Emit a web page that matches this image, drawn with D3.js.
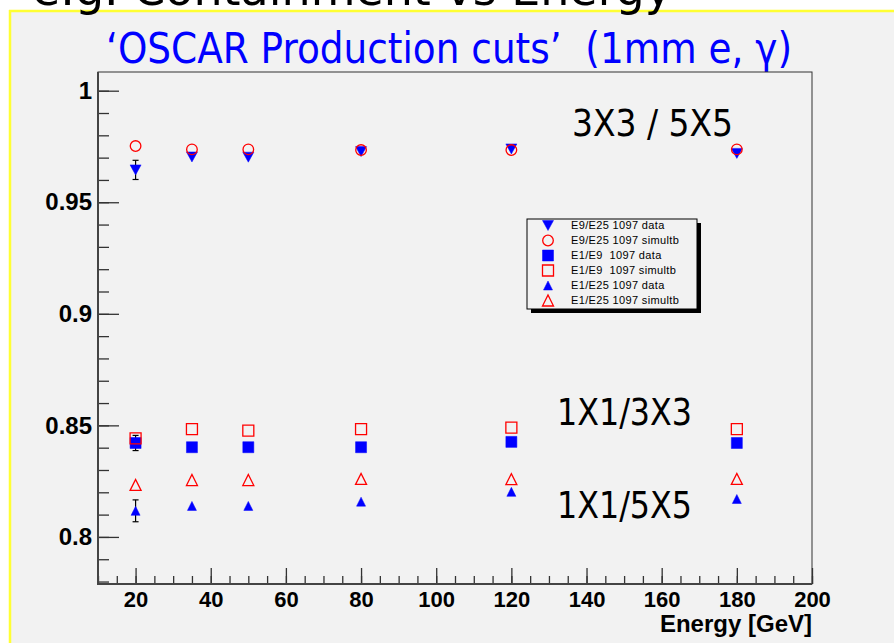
<!DOCTYPE html>
<html>
<head>
<meta charset="utf-8">
<script src="https://cdn.jsdelivr.net/npm/d3@7"></script>
<style>
    html, body { margin: 0; padding: 0; background: #ffffff; }
    svg { display: block; }
    .tick text { font-family: 'Liberation Sans', Arial, sans-serif; font-weight: bold; fill: #000; }
</style>
</head>
<body>
<div id="chart"></div>
<script>

// beam energies (GeV)
const energies = [20, 35, 50, 80, 120, 180];

// E9/E25 (3x3 / 5x5)
const e9e25Data = [0.9645, 0.9703, 0.9702, 0.9727, 0.9739, 0.9719];
const e9e25DataErr = [0.0043, 0, 0, 0, 0, 0];
const e9e25Sim = [0.9752, 0.9737, 0.9737, 0.9734, 0.9734, 0.9737];

// E1/E9 (1x1 / 3x3)
const e1e9Data = [0.8421, 0.8402, 0.8402, 0.8402, 0.8426, 0.8421];
const e1e9DataErr = [0.0034, 0, 0, 0, 0, 0];
const e1e9Sim = [0.8442, 0.8483, 0.8476, 0.8483, 0.8490, 0.8483];

// E1/E25 (1x1 / 5x5)
const e1e25Data = [0.8117, 0.8139, 0.8139, 0.8158, 0.8202, 0.8170];
const e1e25DataErr = [0.0049, 0, 0, 0, 0, 0];
const e1e25Sim = [0.8233, 0.8255, 0.8255, 0.8260, 0.8259, 0.8260];

const xTicks = [20, 40, 60, 80, 100, 120, 140, 160, 180, 200];
const yTicks = [0.8, 0.85, 0.9, 0.95, 1];

const legendLabels = [
    'E9/E25 1097 data',
    'E9/E25 1097 simultb',
    'E1/E9  1097 data',
    'E1/E9  1097 simultb',
    'E1/E25 1097 data',
    'E1/E25 1097 simultb'
];

const width = 894;
const height = 643;
const frame = { left: 98, top: 72, right: 812, bottom: 584 };
const blue = '#0000ff';
const red = '#ff0000';

const series = [
    { values: e9e25Data, errors: e9e25DataErr, shape: 'tridown', filled: true, color: blue },
    { values: e9e25Sim, shape: 'circle', filled: false, color: red },
    { values: e1e9Data, errors: e1e9DataErr, shape: 'square', filled: true, color: blue },
    { values: e1e9Sim, shape: 'square', filled: false, color: red },
    { values: e1e25Data, errors: e1e25DataErr, shape: 'triup', filled: true, color: blue },
    { values: e1e25Sim, shape: 'triup', filled: false, color: red }
];

const xScale = d3.scaleLinear()
    .domain([10, 200])
    .range([frame.left, frame.right]);

const yScale = d3.scaleLinear()
    .domain([0.7789, 1.00838])
    .range([frame.bottom, frame.top]);

const svg = d3.select('#chart')
    .append('svg')
    .attr('width', width)
    .attr('height', height);

// slide background with yellow border
svg.append('rect')
    .attr('x', 11).attr('y', 12)
    .attr('width', width - 11).attr('height', height - 12)
    .attr('fill', '#f2f2f2');

svg.append('line')
    .attr('x1', 10).attr('x2', 10).attr('y1', 10).attr('y2', height)
    .attr('stroke', '#ffff33').attr('stroke-width', 2.5);

svg.append('line')
    .attr('x1', 9).attr('x2', width).attr('y1', 11).attr('y2', 11)
    .attr('stroke', '#ffff33').attr('stroke-width', 2.5);

// slide heading, cut off at the top as in the slide
svg.append('text')
    .attr('x', 32)
    .attr('y', 5)
    .attr('font-family', "'DejaVu Sans Condensed', 'DejaVu Sans', sans-serif")
    .attr('font-size', 46)
    .attr('textLength', 640)
    .attr('lengthAdjust', 'spacingAndGlyphs')
    .attr('fill', '#000')
    .text('e.g. Containment vs Energy');

svg.append('text')
    .attr('x', 106)
    .attr('y', 63)
    .attr('font-family', "'DejaVu Sans Condensed', 'DejaVu Sans', sans-serif")
    .attr('font-size', 43)
    .attr('textLength', 686)
    .attr('lengthAdjust', 'spacingAndGlyphs')
    .attr('fill', blue)
    .style('white-space', 'pre')
    .text('\u2018OSCAR Production cuts\u2019  (1mm e, \u03b3)');

// frame
svg.append('rect')
    .attr('x', frame.left).attr('y', frame.top)
    .attr('width', frame.right - frame.left)
    .attr('height', frame.bottom - frame.top)
    .attr('fill', 'none')
    .attr('stroke', '#333')
    .attr('stroke-width', 1);

// y axis, ticks pointing inwards
const yMinor = d3.range(0.78, 1.0001, 0.01);

svg.append('g')
    .attr('transform', `translate(${frame.left},0)`)
    .call(d3.axisLeft(yScale).tickValues(yMinor).tickSize(-11).tickFormat(''))
    .call(g => g.select('.domain').remove())
    .selectAll('line').attr('stroke', '#333').attr('stroke-width', 1.3);

const yAxis = svg.append('g')
    .attr('class', 'y-axis')
    .attr('transform', `translate(${frame.left},0)`)
    .call(d3.axisLeft(yScale)
        .tickValues(yTicks)
        .tickSize(-21)
        .tickPadding(6)
        .tickFormat(d => d === 1 ? '1' : String(d)));

yAxis.select('.domain').remove();
yAxis.selectAll('line').attr('stroke', '#333').attr('stroke-width', 1.3);
yAxis.selectAll('text').attr('font-size', 24);

// x axis, ticks pointing inwards
svg.append('g')
    .attr('transform', `translate(0,${frame.bottom})`)
    .call(d3.axisBottom(xScale).tickValues(d3.range(10, 201, 5)).tickSize(-8).tickFormat(''))
    .call(g => g.select('.domain').remove())
    .selectAll('line').attr('stroke', '#333').attr('stroke-width', 1.3);

const xAxis = svg.append('g')
    .attr('class', 'x-axis')
    .attr('transform', `translate(0,${frame.bottom})`)
    .call(d3.axisBottom(xScale)
        .tickValues(xTicks)
        .tickSize(-16)
        .tickPadding(7));

xAxis.select('.domain').remove();
xAxis.selectAll('line').attr('stroke', '#333').attr('stroke-width', 1.3);
xAxis.selectAll('text').attr('font-size', 22);

// heavier left and bottom axis lines
svg.append('line')
    .attr('x1', frame.left).attr('x2', frame.left)
    .attr('y1', frame.top).attr('y2', frame.bottom + 1)
    .attr('stroke', '#444').attr('stroke-width', 2);

svg.append('line')
    .attr('x1', frame.left - 1).attr('x2', frame.right)
    .attr('y1', frame.bottom).attr('y2', frame.bottom)
    .attr('stroke', '#444').attr('stroke-width', 2);

svg.append('text')
    .attr('x', frame.right)
    .attr('y', 632)
    .attr('text-anchor', 'end')
    .attr('font-family', "'Liberation Sans', Arial, sans-serif")
    .attr('font-weight', 'bold')
    .attr('font-size', 24)
    .text('Energy [GeV]');

// group labels
const groupLabels = [
    { text: '3X3 / 5X5', x: 572, y: 136, len: 161 },
    { text: '1X1/3X3', x: 557, y: 425, len: 135 },
    { text: '1X1/5X5', x: 557, y: 518, len: 135 }
];

svg.selectAll('.group-label')
    .data(groupLabels)
    .enter()
    .append('text')
    .attr('class', 'group-label')
    .attr('x', d => d.x)
    .attr('y', d => d.y)
    .attr('font-family', "'DejaVu Sans Condensed', 'DejaVu Sans', sans-serif")
    .attr('font-size', 37)
    .attr('textLength', d => d.len)
    .attr('lengthAdjust', 'spacingAndGlyphs')
    .attr('fill', '#000')
    .text(d => d.text);

// marker shapes, centred on 0,0
function triUp(w, h) {
    return `M${-w / 2},${h / 2}L${w / 2},${h / 2}L0,${-h / 2}Z`;
}

function markerPath(s) {
    if (s.shape === 'tridown') return 'M-5.5,-5L5.5,-5L0,5Z';
    if (s.shape === 'square') return 'M-5.5,-5.5H5.5V5.5H-5.5Z';
    if (s.shape === 'circle') return d3.symbol(d3.symbolCircle, Math.PI * 5.3 * 5.3)();
    return s.filled ? triUp(9, 9) : triUp(11, 11);
}

function drawMarker(sel, s) {
    sel.append('path')
        .attr('d', markerPath(s))
        .attr('fill', s.filled ? s.color : 'none')
        .attr('stroke', s.color)
        .attr('stroke-width', s.filled ? 0.5 : 1.3);
}

const plot = svg.append('g').attr('class', 'points');

series.forEach(s => {
    const pts = energies.map((e, i) => ({ e: e, v: s.values[i], err: s.errors ? s.errors[i] : 0 }));

    // error bars first
    const eb = plot.selectAll(null)
        .data(pts.filter(p => p.err > 0))
        .enter()
        .append('g')
        .attr('stroke', '#000')
        .attr('stroke-width', 1.2);

    eb.append('line')
        .attr('x1', d => xScale(d.e)).attr('x2', d => xScale(d.e))
        .attr('y1', d => yScale(d.v + d.err)).attr('y2', d => yScale(d.v - d.err));
    eb.append('line')
        .attr('x1', d => xScale(d.e) - 3).attr('x2', d => xScale(d.e) + 3)
        .attr('y1', d => yScale(d.v + d.err)).attr('y2', d => yScale(d.v + d.err));
    eb.append('line')
        .attr('x1', d => xScale(d.e) - 3).attr('x2', d => xScale(d.e) + 3)
        .attr('y1', d => yScale(d.v - d.err)).attr('y2', d => yScale(d.v - d.err));

    plot.selectAll(null)
        .data(pts)
        .enter()
        .append('g')
        .attr('transform', d => `translate(${xScale(d.e)},${yScale(d.v)})`)
        .each(function () { drawMarker(d3.select(this), s); });
});

// legend
const legend = svg.append('g')
    .attr('class', 'legend')
    .attr('transform', 'translate(527,219)');

legend.append('rect')
    .attr('x', 4).attr('y', 4)
    .attr('width', 170).attr('height', 90)
    .attr('fill', '#000');

legend.append('rect')
    .attr('x', 0).attr('y', 0)
    .attr('width', 170).attr('height', 90)
    .attr('fill', '#f2f2f2')
    .attr('stroke', '#000')
    .attr('stroke-width', 1);

const rows = legend.selectAll('.legend-row')
    .data(series)
    .enter()
    .append('g')
    .attr('class', 'legend-row')
    .attr('transform', (d, i) => `translate(21,${6.5 + i * 15})`);

rows.each(function (d) { drawMarker(d3.select(this), d); });

rows.append('text')
    .data(legendLabels)
    .attr('x', 23)
    .attr('y', 0)
    .attr('dy', '0.35em')
    .attr('font-family', "'Liberation Sans', Arial, sans-serif")
    .attr('font-size', 11)
    .attr('letter-spacing', 0.35)
    .attr('fill', '#000')
    .style('white-space', 'pre')
    .text(d => d);

console.log('Chart drawn');
</script>
</body>
</html>
